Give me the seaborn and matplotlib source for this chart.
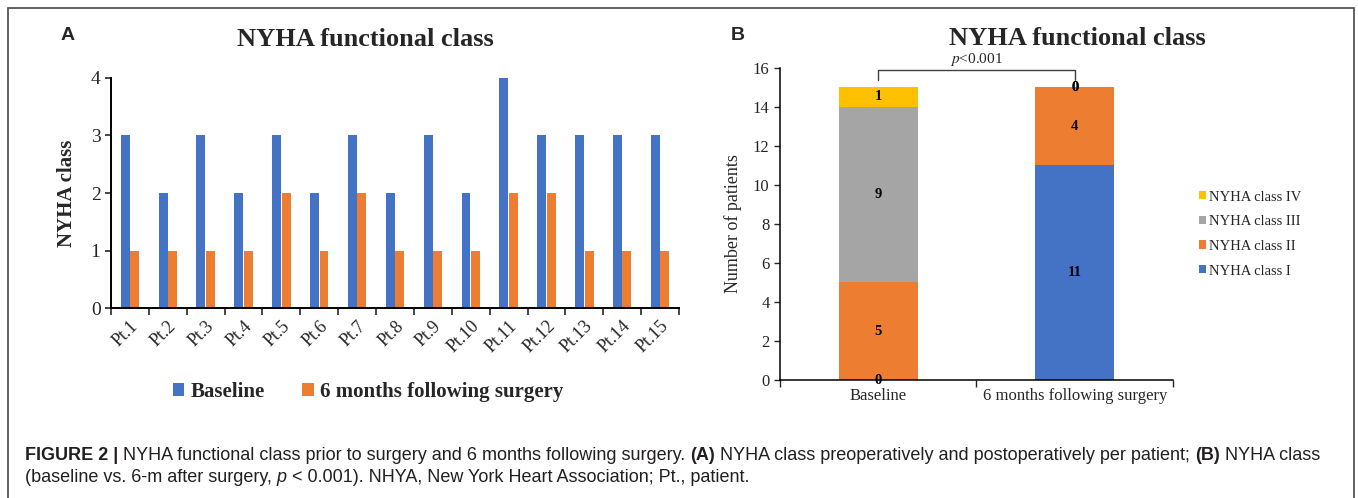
import numpy as np
import pandas as pd
import matplotlib
matplotlib.use("Agg")
import matplotlib.pyplot as plt
import seaborn as sns

# panel A: NYHA class per patient
patients = ["Pt.1", "Pt.2", "Pt.3", "Pt.4", "Pt.5", "Pt.6", "Pt.7", "Pt.8",
            "Pt.9", "Pt.10", "Pt.11", "Pt.12", "Pt.13", "Pt.14", "Pt.15"]
baseline = [3, 2, 3, 2, 3, 2, 3, 2, 3, 2, 4, 3, 3, 3, 3]
six_months = [1, 1, 1, 1, 2, 1, 2, 1, 1, 1, 2, 2, 1, 1, 1]

# panel B: number of patients per class
timepoints = ["Baseline", "6 months following surgery"]
class_I = [0, 11]
class_II = [5, 4]
class_III = [9, 0]
class_IV = [1, 0]

BLUE = "#4472C4"
ORANGE = "#ED7D31"
GRAY = "#A5A5A5"
YELLOW = "#FFC000"

W, H = 1358, 498

sns.set_style("white")
plt.rcParams["font.family"] = ["Liberation Serif", "DejaVu Serif"]
plt.rcParams["mathtext.fontset"] = "stix"

fig = plt.figure(figsize=(W / 100, H / 100), dpi=100)


def px_axes(left, top, right, bottom):
    return fig.add_axes([left / W, 1 - bottom / H, (right - left) / W, (bottom - top) / H])


# ---------------- panel A ----------------
ax_a = px_axes(111, 78, 679, 308)
df_a = pd.DataFrame({
    "patient": patients * 2,
    "nyha": baseline + six_months,
    "time": ["Baseline"] * len(patients) + ["6 months following surgery"] * len(patients),
})
sns.barplot(data=df_a, x="patient", y="nyha", hue="time", palette=[BLUE, ORANGE],
            width=0.5, gap=0.06, saturation=1, linewidth=0, ax=ax_a)
ax_a.set_ylim(0, 4)
ax_a.set_xlim(-0.5, len(patients) - 0.5)
ax_a.set_yticks(range(5))
ax_a.tick_params(axis="y", labelsize=14, length=4, width=1.2, direction="out", left=True)
ax_a.set_xticks(range(len(patients)))
ax_a.set_xticklabels(patients, rotation=45, ha="right", rotation_mode="anchor", fontsize=13)
ax_a.tick_params(axis="x", which="major", length=0, pad=7)
ax_a.set_xticks(np.arange(-0.5, len(patients)), minor=True)
ax_a.tick_params(axis="x", which="minor", length=5, width=1.2, direction="out", bottom=True)
ax_a.set_xlabel("")
ax_a.set_ylabel("NYHA class", fontsize=15, fontweight="bold", labelpad=10)
for s in ["top", "right"]:
    ax_a.spines[s].set_visible(False)
for s in ["left", "bottom"]:
    ax_a.spines[s].set_color("black")
    ax_a.spines[s].set_linewidth(1.4)
handles, labels = ax_a.get_legend_handles_labels()
ax_a.legend(handles, labels, loc="center", bbox_to_anchor=(368 / W, 1 - 392 / H),
            bbox_transform=fig.transFigure, ncol=2, frameon=False,
            prop={"weight": "bold", "size": 15}, handlelength=0.55, handleheight=0.55,
            handletextpad=0.3, columnspacing=1.8)
fig.text(365 / W, 1 - 40 / H, "NYHA functional class", fontsize=19, fontweight="bold",
         ha="center", va="center")
fig.text(68 / W, 1 - 35 / H, "A", fontsize=14, fontweight="bold", family="Liberation Sans",
         ha="center", va="center")

# ---------------- panel B ----------------
ax_b = px_axes(780, 67.7, 1173, 380)
df_b = pd.DataFrame({"time": timepoints, "I": class_I, "II": class_II,
                     "III": class_III, "IV": class_IV})
cols = ["I", "II", "III", "IV"]
cum = df_b[cols].cumsum(axis=1)
colors = {"I": BLUE, "II": ORANGE, "III": GRAY, "IV": YELLOW}
# stacked bars: draw cumulative totals from the top class down
for c in reversed(cols):
    sns.barplot(x=df_b["time"], y=cum[c], color=colors[c], width=0.4, saturation=1,
                linewidth=0, label=f"NYHA class {c}", ax=ax_b)

# segment labels
for i in range(len(timepoints)):
    for c in cols:
        v = df_b.loc[i, c]
        mid = cum.loc[i, c] - v / 2
        ax_b.text(i, mid, str(v), ha="center", va="center", fontsize=10.5,
                  fontweight="bold", color="black")

ax_b.set_ylim(0, 16)
ax_b.set_xlim(-0.5, 1.5)
ax_b.set_yticks(range(0, 17, 2))
ax_b.tick_params(axis="y", labelsize=12, length=4, width=1, direction="out", left=True)
ax_b.set_xticks(range(2))
ax_b.set_xticklabels(timepoints, fontsize=12)
ax_b.tick_params(axis="x", which="major", length=0, pad=6)
ax_b.set_xticks([-0.5, 0.5, 1.5], minor=True)
ax_b.tick_params(axis="x", which="minor", length=5, width=1, direction="out", bottom=True)
ax_b.set_xlabel("")
ax_b.set_ylabel("Number of patients", fontsize=13, labelpad=8)
for s in ["top", "right"]:
    ax_b.spines[s].set_visible(False)
for s in ["left", "bottom"]:
    ax_b.spines[s].set_color("black")
    ax_b.spines[s].set_linewidth(1.1)

# significance bracket
ax_b.plot([0, 0, 1, 1], [15.37, 15.88, 15.88, 15.37], color="#404040", lw=1, clip_on=False)
ax_b.text(0.5, 16.0, "$p$<0.001", ha="center", va="bottom", fontsize=11)

ax_b.legend(loc="center left", bbox_to_anchor=(1186 / W, 1 - 234 / H),
            bbox_transform=fig.transFigure, frameon=False, fontsize=10.5,
            handlelength=0.5, handleheight=0.5, handletextpad=0.2, labelspacing=0.8)

fig.text(1077 / W, 1 - 38 / H, "NYHA functional class", fontsize=19, fontweight="bold",
         ha="center", va="center")
fig.text(738 / W, 1 - 35 / H, "B", fontsize=14, fontweight="bold", family="Liberation Sans",
         ha="center", va="center")

# ---------------- frame and caption ----------------
fig.add_artist(plt.Rectangle((8 / W, -0.02), (1354 - 8) / W, 1 - 8 / H + 0.02,
                             transform=fig.transFigure, fill=False,
                             edgecolor="#555555", lw=1.3))

renderer = fig.canvas.get_renderer()
cap_size = 13


def caption_line(y_px, parts):
    x = 25
    for txt, style in parts:
        kw = {}
        if style == "b":
            kw = {"fontweight": "bold"}
        elif style == "i":
            kw = {"fontstyle": "italic"}
        t = fig.text(x / W, 1 - y_px / H, txt, fontsize=cap_size, family="Liberation Sans",
                     color="#231f20", va="center", ha="left", **kw)
        x += t.get_window_extent(renderer).width
    return x


line1 = [("FIGURE 2 |", "b"), (" NYHA functional class prior to surgery and 6 months following surgery. ", "r"),
         ("(A)", "b"), (" NYHA class preoperatively and postoperatively per patient; ", "r"),
         ("(B)", "b"), (" NYHA class", "r")]
line2 = [("(baseline vs. 6-m after surgery, ", "r"), ("p", "i"),
         (" < 0.001). NHYA, New York Heart Association; Pt., patient.", "r")]
caption_line(456, line1)
caption_line(478, line2)

fig.savefig("out.png", dpi=100)
